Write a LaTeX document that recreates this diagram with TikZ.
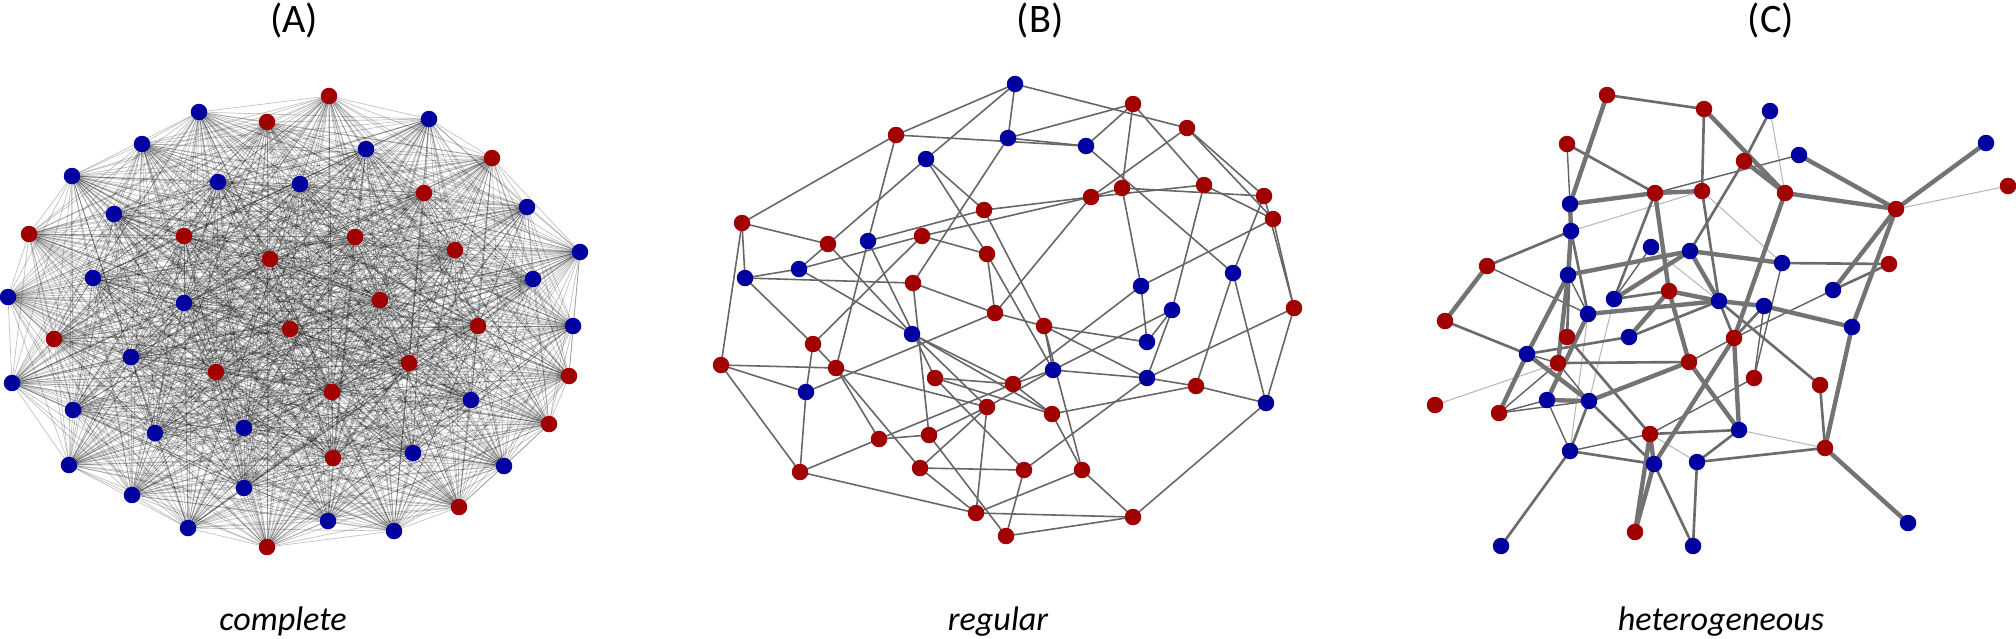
\documentclass[tikz,border=0pt]{standalone}
\usepackage{fontspec}
\newfontfamily\lab{Carlito}
\usetikzlibrary{backgrounds}
\definecolor{nred}{RGB}{160,0,0}
\definecolor{nblue}{RGB}{0,0,158}
\tikzset{
  nR/.style={circle,fill=nred,draw=none,inner sep=0pt,minimum size=0.165cm},
  nB/.style={circle,fill=nblue,draw=none,inner sep=0pt,minimum size=0.165cm},
  aedge/.style={line width=0.2pt,draw=black,opacity=0.24},
  bedge/.style={line width=0.45pt,draw=black!60},
  cthick/.style={line width=1.25pt,draw=black!55},
  cmed/.style={line width=0.75pt,draw=black!58},
  cthin/.style={line width=0.4pt,draw=black!62},
  cfaint/.style={line width=0.3pt,draw=black!28},
  ttl/.style={font=\lab\fontsize{11.5}{13}\selectfont,anchor=base},
  captext/.style={font=\lab\itshape\fontsize{9.7}{12}\selectfont,anchor=base}
}
\begin{document}
\begin{tikzpicture}[x=0.01cm,y=-0.01cm]
\path[use as bounding box] (0,0) rectangle (2016,638);
% titles
\node[ttl] (tA) at (294,32) {(A)};
\node[ttl] (tB) at (1040,32) {(B)};
\node[ttl] (tC) at (1771,32) {(C)};
\node[captext] (lA) at (283,630) {complete};
\node[captext] (lB) at (998,630) {regular};
\node[captext] (lC) at (1721,630) {heterogeneous};
% ---------- panel A nodes
\foreach \n/\x/\y/\c in {a1/199/112/B, a2/329/96/R, a3/267/122/R, a4/366/149/B, a5/142/144/B, a6/72/176/B, a7/218/182/B, a8/300/184/B, a9/114/214/B, a10/29/234/R, a11/184/236/R, a12/355/237/R, a13/270/259/R, a14/93/278/B, a15/8/297/B, a16/184/303/B, a17/380/300/R, a18/290/329/R, a19/54/339/R, a20/131/357/B, a21/216/372/R, a22/12/383/B, a23/332/392/R, a24/73/410/B, a25/155/433/B, a26/244/428/B, a27/333/458/R, a28/69/465/B, a29/132/495/B, a30/244/488/B, a31/188/528/B, a32/267/547/R, a33/328/521/B, a34/394/531/B, a35/429/119/B, a36/492/158/R, a37/424/193/R, a38/527/207/B, a39/455/250/R, a40/580/252/B, a41/533/279/B, a42/478/326/R, a43/573/326/B, a44/409/363/R, a45/569/376/R, a46/471/400/B, a47/549/424/R, a48/413/453/B, a49/504/466/B, a50/459/507/R}
  \node[n\c] (\n) at (\x,\y) {};
\begin{pgfonlayer}{background}
\foreach \i in {1,...,49}{
  \pgfmathtruncatemacro\k{\i+1}
  \foreach \j in {\k,...,50}{\draw[aedge] (a\i.center) -- (a\j.center);}
}
\end{pgfonlayer}
% ---------- panel B nodes
\foreach \n/\x/\y/\c in {b1/1015/84/B, b2/896/135/R, b3/1008/138/B, b4/926/159/B, b5/1133/104/R, b6/1187/128/R, b7/1086/146/B, b8/984/210/R, b9/742/223/R, b10/828/244/R, b11/868/241/B, b12/922/236/R, b13/987/254/R, b14/799/269/B, b15/745/278/B, b16/913/283/R, b17/1122/188/R, b18/1091/197/R, b19/1204/185/R, b20/1264/196/R, b21/1273/219/R, b22/1233/273/B, b23/1141/286/B, b24/1172/310/B, b25/1294/308/R, b26/995/313/R, b27/1044/326/R, b28/912/334/B, b29/813/344/R, b30/721/365/R, b31/836/368/R, b32/806/392/B, b33/935/378/R, b34/1013/384/R, b35/987/407/R, b36/879/439/R, b37/929/435/R, b38/800/472/R, b39/920/468/R, b40/1024/470/R, b41/976/513/R, b42/1006/536/R, b43/1147/342/B, b44/1053/370/B, b45/1147/378/B, b46/1196/386/R, b47/1266/403/B, b48/1052/414/R, b49/1082/470/R, b50/1133/517/R}
  \node[n\c] (\n) at (\x,\y) {};
\begin{pgfonlayer}{background}
\foreach \u/\v in {b1/b2, b1/b3, b1/b4, b1/b6, b2/b9, b2/b7, b3/b7, b2/b11, b3/b5, b3/b16, b4/b10, b4/b8, b4/b13, b5/b7, b5/b17, b5/b19, b6/b18, b6/b20, b6/b21, b7/b22, b8/b11, b8/b18, b8/b27, b27/b44, b9/b10, b9/b15, b9/b30, b10/b14, b10/b28, b11/b31, b11/b33, b12/b14, b12/b13, b12/b29, b12/b18, b18/b17, b13/b26, b13/b44, b14/b15, b14/b48, b15/b16, b15/b29, b16/b26, b16/b37, b17/b23, b18/b19, b17/b20, b19/b21, b19/b24, b20/b22, b20/b25, b21/b23, b21/b25, b22/b46, b22/b47, b23/b43, b23/b34, b24/b43, b24/b45, b24/b44, b25/b45, b25/b47, b18/b26, b26/b27, b26/b32, b27/b43, b27/b45, b27/b49, b28/b35, b28/b34, b29/b32, b29/b31, b30/b31, b30/b32, b30/b38, b31/b35, b31/b36, b31/b39, b32/b38, b33/b34, b33/b48, b33/b40, b34/b36, b34/b44, b35/b37, b35/b41, b35/b44, b35/b39, b36/b38, b36/b37, b37/b42, b38/b41, b39/b40, b39/b41, b40/b45, b40/b42, b41/b49, b41/b50, b42/b50, b44/b45, b45/b46, b46/b47, b46/b48, b47/b50, b48/b49, b49/b50, b34/b48}
  \draw[bedge] (\u.center) -- (\v.center);
\end{pgfonlayer}
% ---------- panel C nodes
\foreach \n/\x/\y/\c in {c1/1607/95/R, c2/1704/109/R, c3/1567/144/R, c4/1655/193/R, c5/1702/191/R, c6/1570/204/B, c7/1571/231/B, c8/1651/247/B, c9/1690/251/B, c10/1487/266/R, c11/1568/275/B, c12/1669/291/R, c13/1614/299/B, c14/1719/301/B, c15/1588/314/B, c16/1445/321/R, c17/1770/111/B, c18/1744/161/R, c19/1799/155/B, c20/1785/193/R, c21/1896/209/R, c22/1986/143/B, c23/2008/186/R, c24/1782/263/B, c25/1889/264/R, c26/1833/290/B, c27/1764/306/B, c28/1852/327/B, c29/1567/337/R, c30/1629/337/B, c31/1527/354/B, c32/1558/363/R, c33/1689/362/R, c34/1435/405/R, c35/1499/413/R, c36/1547/400/B, c37/1589/401/B, c38/1650/434/R, c39/1570/451/B, c40/1654/464/B, c41/1697/462/B, c42/1635/532/R, c43/1501/546/B, c44/1693/546/B, c45/1734/338/R, c46/1754/378/R, c47/1820/385/R, c48/1739/430/B, c49/1825/448/R, c50/1908/523/B}
  \node[n\c] (\n) at (\x,\y) {};
\begin{pgfonlayer}{background}
\foreach \u/\v in {c7/c5, c8/c14, c17/c20, c21/c23, c5/c24, c48/c49, c34/c32, c39/c15, c41/c38, c37/c13}
  \draw[cfaint] (\u.center) -- (\v.center);
\foreach \u/\v in {c3/c6, c11/c15, c10/c15, c8/c13, c24/c46, c26/c45, c27/c46, c46/c38, c31/c32, c32/c35, c35/c36, c35/c37, c36/c39, c38/c39, c32/c37, c33/c45, c4/c19}
  \draw[cthin] (\u.center) -- (\v.center);
\foreach \u/\v in {c1/c2, c2/c5, c4/c13, c7/c10, c7/c15, c9/c18, c17/c18, c13/c12, c5/c14, c24/c25, c25/c26, c14/c45, c14/c47, c27/c45, c47/c49, c48/c41, c41/c49, c41/c44, c16/c31, c31/c30, c29/c38, c30/c14, c37/c40, c37/c39, c38/c48, c39/c40, c39/c43, c40/c44, c7/c29, c3/c4, c32/c33}
  \draw[cmed] (\u.center) -- (\v.center);
\foreach \u/\v in {c1/c6, c2/c20, c4/c6, c4/c5, c6/c7, c7/c11, c11/c9, c10/c16, c4/c12, c9/c13, c12/c14, c15/c14, c12/c33, c36/c15, c11/c31, c31/c35, c11/c32, c18/c20, c19/c21, c20/c21, c21/c22, c21/c26, c21/c28, c20/c45, c9/c24, c9/c14, c14/c27, c27/c28, c45/c48, c45/c40, c28/c49, c49/c50, c33/c48, c36/c37, c31/c37, c37/c33, c38/c40, c38/c42, c40/c42, c30/c12}
  \draw[cthick] (\u.center) -- (\v.center);
\end{pgfonlayer}
\end{tikzpicture}
\end{document}
